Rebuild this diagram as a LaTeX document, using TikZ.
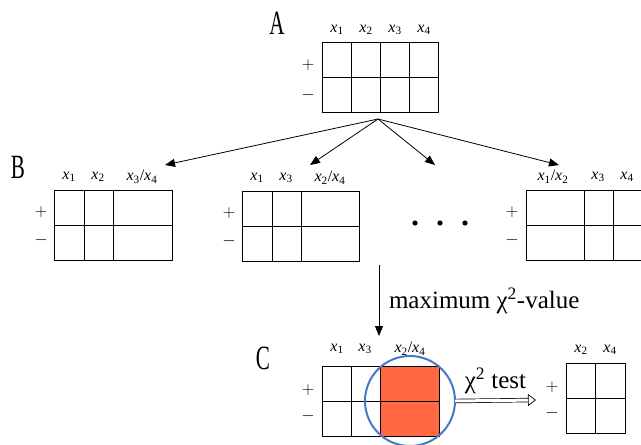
\documentclass[tikz,border=0pt]{standalone}
\usepackage{fontspec}
\setmainfont{Liberation Serif}
\usepackage{amsmath}
\usepackage{xcolor}
\usetikzlibrary{arrows.meta,calc}

\definecolor{cellred}{HTML}{FF6842}
\definecolor{ringblue}{HTML}{4778C8}
\newcommand{\xv}[1]{\textit{x}\textsubscript{#1}}

\begin{document}
\begin{tikzpicture}[x=1pt,y=-1pt,>={Triangle[length=10pt,width=8pt]},
  every node/.style={inner sep=0pt,outer sep=0pt},
  tbl/.style={draw,line width=0.8pt,minimum height=70pt},
  var/.style={font=\fontsize{16}{16}\selectfont},
  sign/.style={font=\fontsize{19}{19}\selectfont},
  step label/.style={font=\fontsize{34}{34}\selectfont,xscale=0.62},
  lbl/.style={font=\fontsize{25}{25}\selectfont}]
\useasboundingbox (0,0) rectangle (641,445);
\clip (0,0) rectangle (641,445);

% table A
\node[step label] (lA) at (277,23) {A};
\node[tbl,minimum width=116pt] (tA) at (380,77) {};
\foreach \d in {29,58,87}
  \draw[line width=0.8pt] ($(tA.north west)+(\d,0)$) -- ($(tA.south west)+(\d,0)$);
\draw[line width=0.8pt] (tA.west) -- (tA.east);
\node[var] at (337,30) {\xv1};
\node[var] at (366,30) {\xv2};
\node[var] at (395,30) {\xv3};
\node[var] at (424,30) {\xv4};
\node[sign] at (308,65) {$+$};
\node[sign] at (308,95) {$-$};

% tables B
\node[step label] (lB) at (18,167) {B};
\node[tbl,minimum width=118pt] (tB1) at (113,225) {};
\foreach \d in {30,59}
  \draw[line width=0.8pt] ($(tB1.north west)+(\d,0)$) -- ($(tB1.south west)+(\d,0)$);
\draw[line width=0.8pt] (tB1.west) -- (tB1.east);
\node[var] at (69,177) {\xv1};
\node[var] at (98,177) {\xv2};
\node[var] at (142,177) {\xv3/\xv4};
\node[sign] at (41,212) {$+$};
\node[sign] at (41,240) {$-$};

\node[tbl,minimum width=117pt] (tB2) at (300.5,226) {};
\foreach \d in {30,59}
  \draw[line width=0.8pt] ($(tB2.north west)+(\d,0)$) -- ($(tB2.south west)+(\d,0)$);
\draw[line width=0.8pt] (tB2.west) -- (tB2.east);
\node[var] at (257,178) {\xv1};
\node[var] at (286,178) {\xv3};
\node[var] at (330,178) {\xv2/\xv4};
\node[sign] at (229,213) {$+$};
\node[sign] at (229,241) {$-$};

% dots
\foreach \p in {415,440,465}
  \fill (\p,223) circle (2.6);

\node[tbl,minimum width=134pt] (tB4) at (593,225) {};
\foreach \d in {58,87}
  \draw[line width=0.8pt] ($(tB4.north west)+(\d,0)$) -- ($(tB4.south west)+(\d,0)$);
\draw[line width=0.8pt] (tB4.west) -- (tB4.east);
\node[var] at (553,177) {\xv1/\xv2};
\node[var] at (598,177) {\xv3};
\node[var] at (627,177) {\xv4};
\node[sign] at (512,212) {$+$};
\node[sign] at (512,240) {$-$};

% arrows from A
\coordinate (fork) at (378,119);
\coordinate (toB1) at (165,165);
\coordinate (toB2) at (310,165);
\coordinate (toDots) at (435,165);
\coordinate (toB4) at (559,165);
\foreach \t in {toB1,toB2,toDots,toB4}
  \draw[->,line width=0.8pt] (fork) -- (\t);

% table C
\node[step label] (lC) at (263,358) {C};
\node[tbl,minimum width=117pt] (tC) at (380.5,401) {};
\fill[cellred] ($(tC.north west)+(58,0)$) rectangle (tC.south east);
\draw[line width=0.8pt] (tC.north west) rectangle (tC.south east);
\foreach \d in {29,58}
  \draw[line width=0.8pt] ($(tC.north west)+(\d,0)$) -- ($(tC.south west)+(\d,0)$);
\draw[line width=0.8pt] (tC.west) -- (tC.east);
\node[var] at (337,349) {\xv1};
\node[var] at (365,349) {\xv3};
\node[var] at (410,349) {\xv2/\xv4};
\node[sign] at (308,390) {$+$};
\node[sign] at (308,416) {$-$};
\node[draw=ringblue,line width=2pt,circle,minimum size=90pt] (ring) at (410,401) {};

\draw[->,line width=0.8pt] (379,265) -- node[lbl,right=10pt] {maximum χ\textsuperscript{2}-value} (379,336);

% result table
\node[tbl,minimum width=59pt] (tD) at (595.5,398) {};
\draw[line width=0.8pt] (tD.north) -- (tD.south);
\draw[line width=0.8pt] (tD.west) -- (tD.east);
\node[var] at (581,350) {\xv2};
\node[var] at (610,350) {\xv4};
\node[sign] at (552,387) {$+$};
\node[sign] at (552,413) {$-$};

\draw[-{Triangle[open,length=8pt,width=12pt]},double,double distance=3pt,line width=0.7pt]
  (ring.east) -- node[lbl,above=7pt] {χ\textsuperscript{2} test} ($(tD.west)+(-30,2)$);
\end{tikzpicture}
\end{document}
